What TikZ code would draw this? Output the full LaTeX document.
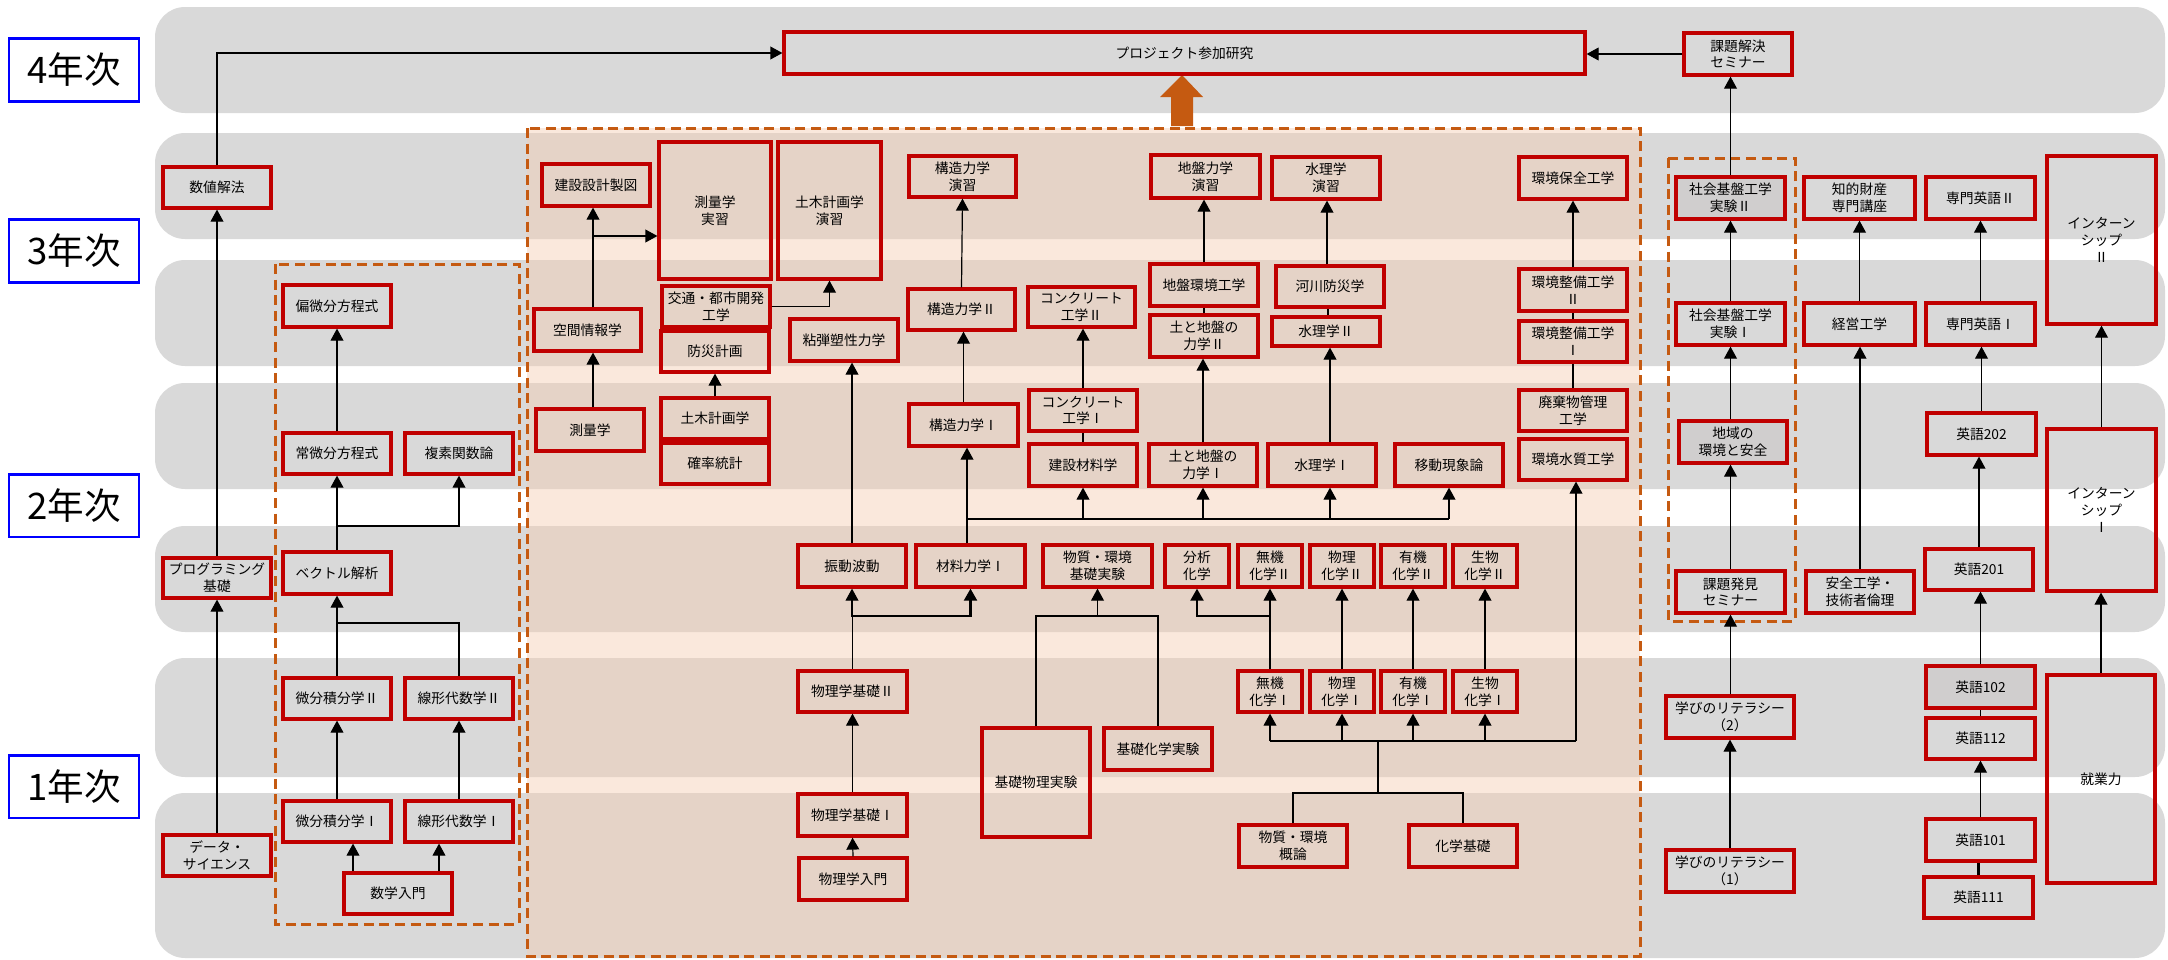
\documentclass[tikz,border=0pt]{standalone}
\usepackage{fontspec}
\setmainfont{Noto Sans CJK JP}
\usetikzlibrary{arrows.meta}

\definecolor{kred}{HTML}{C00000}
\definecolor{korange}{HTML}{C55A11}
\definecolor{kgray}{HTML}{D9D9D9}
\definecolor{kbox}{HTML}{D0CECE}
\definecolor{kcore}{RGB}{244,204,178}

\tikzset{
  course/.style={draw=kred, line width=0.8mm, inner sep=0pt, align=center,
    font=\fontsize{9.8}{12}\selectfont},
  dark/.style={course, fill=kbox},
  spanbox/.style n args={4}{minimum width={(#3-#1)*0.25mm},
    minimum height={(#4-#2)*0.25mm}, at={({(#1+#3)/2},{(#2+#4)/2})}},
  year/.style={draw=blue, fill=white, line width=0.7mm, inner sep=0pt,
    minimum width=32.5mm, minimum height=15.7mm,
    font=\fontsize{26}{30}\selectfont},
  zone/.style={draw=korange, line width=0.75mm, dash pattern=on 2.5mm off 1.4mm},
  arr/.style={-{Triangle[length=3mm,width=3.2mm]}, line width=0.3mm},
  thk/.style={line width=0.65mm},
}

\begin{document}
\begin{tikzpicture}[x=0.25mm,y=-0.25mm]
\useasboundingbox (0,0) rectangle (2168,960);

% year bands
\foreach \ya/\yb in {7/113,133/239,260/366,383/489,526/632,658/777,793/958}
  \fill[kgray, rounded corners=7.5mm] (155,\ya) rectangle (2165,\yb);

% groups
\fill[kcore, fill opacity=0.45] (527,128) rectangle (1640,956);
\draw[zone] (527,128) rectangle (1640,956);
\draw[zone] (275,264) rectangle (519,924);
\draw[zone] (1668,158) rectangle (1795,621);
\fill[korange] (1171,126) -- (1171,97) -- (1160,97) -- (1182,75) -- (1203,97)
  -- (1193,97) -- (1193,126) -- cycle;

% years
\node[year] (yr4) at (74,70) {4年次};
\node[year] (yr3) at (74,251) {3年次};
\node[year] (yr2) at (74,505.5) {2年次};
\node[year] (yr1) at (74,786.5) {1年次};

% left column
\node[course, spanbox={163}{167}{271}{208}] (suchi) {数値解法};
\node[course, spanbox={163}{558}{271}{598}] (prog) {プログラミング\\基礎};
\node[course, spanbox={163}{835}{271}{876}] (datasci) {データ・\\サイエンス};

% mathematics
\node[course, spanbox={283}{285}{391}{327}] (henbi) {偏微分方程式};
\node[course, spanbox={283}{433}{391}{474}] (joubi) {常微分方程式};
\node[course, spanbox={405}{433}{513}{474}] (fukuso) {複素関数論};
\node[course, spanbox={283}{552}{391}{594}] (vec) {ベクトル解析};
\node[course, spanbox={283}{678}{391}{719}] (bisekiB) {微分積分学Ⅱ};
\node[course, spanbox={405}{678}{513}{719}] (senkeiB) {線形代数学Ⅱ};
\node[course, spanbox={283}{801}{391}{842}] (bisekiA) {微分積分学Ⅰ};
\node[course, spanbox={405}{801}{513}{842}] (senkeiA) {線形代数学Ⅰ};
\node[course, spanbox={344}{873}{452}{914}] (sugaku) {数学入門};

% civil engineering core
\node[course, spanbox={542}{164}{650}{206}] (seizu) {建設設計製図};
\node[course, spanbox={659}{142}{771}{279}] (sokujitsu) {測量学\\実習};
\node[course, spanbox={778}{142}{881}{279}] (dokeien) {土木計画学\\演習};
\node[course, spanbox={909}{156}{1016}{197}] (kozoen) {構造力学\\演習};
\node[course, spanbox={662}{286}{770}{327}] (kotsu) {交通・都市開発\\工学};
\node[course, spanbox={908}{289}{1015}{330}] (kozoB) {構造力学Ⅱ};
\node[course, spanbox={1028}{287}{1135}{327}] (conB) {コンクリート\\工学Ⅱ};
\node[course, spanbox={534}{309}{641}{351}] (kukan) {空間情報学};
\node[course, spanbox={661}{331}{769}{372}] (bosai) {防災計画};
\node[course, spanbox={790}{319}{898}{361}] (nendan) {粘弾塑性力学};
\node[course, spanbox={536}{409}{644}{451}] (sokuryo) {測量学};
\node[course, spanbox={661}{398}{769}{439}] (dokei) {土木計画学};
\node[course, spanbox={661}{443}{769}{484}] (kakuritsu) {確率統計};
\node[course, spanbox={909}{404}{1018}{446}] (kozoA) {構造力学Ⅰ};
\node[course, spanbox={1029}{390}{1137}{431}] (conA) {コンクリート\\工学Ⅰ};
\node[course, spanbox={1029}{444}{1137}{486}] (zairyo) {建設材料学};
\node[course, spanbox={798}{545}{906}{587}] (shindo) {振動波動};
\node[course, spanbox={916}{545}{1025}{587}] (zairikiA) {材料力学Ⅰ};
\node[course, spanbox={1043}{545}{1152}{587}] (busjikken) {物質・環境\\基礎実験};
\node[course, spanbox={1165}{545}{1229}{587}] (bunseki) {分析\\化学};
\node[course, spanbox={1238}{545}{1302}{587}] (mukiB) {無機\\化学Ⅱ};
\node[course, spanbox={1310}{545}{1374}{587}] (butsuriB) {物理\\化学Ⅱ};
\node[course, spanbox={1381}{545}{1445}{587}] (yukiB) {有機\\化学Ⅱ};
\node[course, spanbox={1453}{545}{1517}{587}] (seibutsuB) {生物\\化学Ⅱ};
\node[course, spanbox={798}{671}{907}{712}] (butsukisoB) {物理学基礎Ⅱ};
\node[course, spanbox={982}{728}{1090}{837}] (kisobutsu) {基礎物理実験};
\node[course, spanbox={1104}{728}{1212}{770}] (kisoka) {基礎化学実験};
\node[course, spanbox={1238}{671}{1302}{712}] (mukiA) {無機\\化学Ⅰ};
\node[course, spanbox={1310}{671}{1374}{712}] (butsuriA) {物理\\化学Ⅰ};
\node[course, spanbox={1381}{671}{1445}{712}] (yukiA) {有機\\化学Ⅰ};
\node[course, spanbox={1453}{671}{1517}{712}] (seibutsuA) {生物\\化学Ⅰ};
\node[course, spanbox={798}{794}{907}{836}] (butsukisoA) {物理学基礎Ⅰ};
\node[course, spanbox={799}{858}{907}{900}] (butsunyu) {物理学入門};
\node[course, spanbox={1239}{825}{1347}{867}] (busgairon) {物質・環境\\概論};
\node[course, spanbox={1409}{825}{1517}{867}] (kagakukiso) {化学基礎};

\node[course, spanbox={1151}{155}{1260}{198}] (jibanen) {地盤力学\\演習};
\node[course, spanbox={1272}{157}{1380}{199}] (suirien) {水理学\\演習};
\node[course, spanbox={1519}{157}{1627}{199}] (hozen) {環境保全工学};
\node[course, spanbox={1150}{264}{1258}{306}] (jibankan) {地盤環境工学};
\node[course, spanbox={1276}{266}{1384}{307}] (kasen) {河川防災学};
\node[course, spanbox={1519}{269}{1627}{311}] (seibiB) {環境整備工学\\Ⅱ};
\node[course, spanbox={1150}{315}{1258}{357}] (dotoB) {土と地盤の\\力学Ⅱ};
\node[course, spanbox={1272}{317}{1380}{346}] (suiriB) {水理学Ⅱ};
\node[course, spanbox={1519}{321}{1627}{362}] (seibiA) {環境整備工学\\Ⅰ};
\node[course, spanbox={1519}{390}{1627}{431}] (haiki) {廃棄物管理\\工学};
\node[course, spanbox={1519}{439}{1627}{480}] (suishitsu) {環境水質工学};
\node[course, spanbox={1149}{444}{1257}{486}] (dotoA) {土と地盤の\\力学Ⅰ};
\node[course, spanbox={1268}{444}{1376}{486}] (suiriA) {水理学Ⅰ};
\node[course, spanbox={1395}{444}{1503}{486}] (ido) {移動現象論};

% right side
\node[course, spanbox={784}{32}{1585}{74}] (project) {プロジェクト参加研究};
\node[course, spanbox={1684}{33}{1792}{75}] (kaiketsu) {課題解決\\セミナー};
\node[dark, spanbox={1676}{177}{1785}{219}] (shakaiB) {社会基盤工学\\実験Ⅱ};
\node[course, spanbox={1804}{177}{1915}{219}] (chiteki) {知的財産\\専門講座};
\node[course, spanbox={1926}{177}{2035}{219}] (senmonB) {専門英語Ⅱ};
\node[course, spanbox={2047}{156}{2156}{324}] (internB) {インターン\\シップ\\Ⅱ};
\node[course, spanbox={1676}{303}{1785}{345}] (shakaiA) {社会基盤工学\\実験Ⅰ};
\node[course, spanbox={1804}{303}{1915}{345}] (keiei) {経営工学};
\node[course, spanbox={1926}{303}{2035}{345}] (senmonA) {専門英語Ⅰ};
\node[dark, spanbox={1679}{421}{1787}{463}] (chiiki) {地域の\\環境と安全};
\node[course, spanbox={1927}{413}{2036}{455}] (eigoNN) {英語202};
\node[course, spanbox={2047}{429}{2156}{591}] (internA) {インターン\\シップ\\Ⅰ};
\node[course, spanbox={1676}{571}{1785}{613}] (hakken) {課題発見\\セミナー};
\node[course, spanbox={1806}{571}{1914}{613}] (anzen) {安全工学・\\技術者倫理};
\node[course, spanbox={1925}{549}{2033}{590}] (eigoNA) {英語201};
\node[course, spanbox={1666}{696}{1794}{738}] (manabiB) {学びのリテラシー\\（2）};
\node[dark, spanbox={1926}{666}{2035}{708}] (eigoAN) {英語102};
\node[course, spanbox={1926}{718}{2035}{759}] (eigoAB) {英語112};
\node[course, spanbox={2047}{675}{2155}{883}] (shugyo) {就業力};
\node[course, spanbox={1666}{850}{1794}{892}] (manabiA) {学びのリテラシー\\（1）};
\node[course, spanbox={1926}{819}{2035}{861}] (eigoAA) {英語101};
\node[course, spanbox={1924}{877}{2033}{918}] (eigoAAA) {英語111};

% left connectors
\draw[arr] (datasci.north) -- (prog.south);
\draw[arr] (prog.north) -- (suchi.south);
\draw[arr] (suchi.north) |- (project.west);

% math connectors
\draw[arr] (joubi.north) -- (henbi.south);
\draw[arr] (vec.north) -- (joubi.south);
\coordinate (jvec) at (vec.north |- 0,526);
\draw[arr] (jvec) -| (fukuso.south);
\draw[arr] (bisekiB.north) -- (vec.south);
\draw[thk] (senkeiB.north) |- (bisekiB.north |- 0,623);
\draw[arr] (bisekiA.north) -- (bisekiB.south);
\draw[arr] (senkeiA.north) -- (senkeiB.south);
\draw[arr] (sugaku.north -| 353,0) -- (bisekiA.south -| 353,0);
\draw[arr] (sugaku.north -| 439,0) -- (senkeiA.south -| 439,0);

% core connectors
\draw[arr] (sokuryo.north -| 593,0) -- (kukan.south -| 593,0);
\draw[arr] (kukan.north -| 593,0) -- (seizu.south -| 593,0);
\coordinate (jkukan) at (593,236);
\draw[arr] (jkukan) -- (jkukan -| sokujitsu.west);
\draw[arr] (kotsu.east) -| (dokeien.south);
\draw[arr] (dokei.north) -- (bosai.south);
\draw[arr] (kozoB.north) -- (kozoen.south);
\draw[arr] (kozoA.north) -- (kozoA.north |- kozoB.south);
\draw[arr] (shindo.north) -- (shindo.north |- nendan.south);
\draw[arr] (zairikiA.north -| 967,0) -- (kozoA.south -| 967,0);
\coordinate (jzai) at (967,519);
\draw[thk] (jzai) -- (jzai -| ido.south);
\draw[arr] (jzai -| ido.south) -- (ido.south);
\draw[arr] (jzai -| zairyo.south) -- (zairyo.south);
\draw[arr] (jzai -| dotoA.south) -- (dotoA.south);
\draw[arr] (jzai -| 1330,0) -- (suiriA.south -| 1330,0);
\draw[thk] (zairyo.north) -- (conA.south);
\draw[arr] (conA.north) -- (conA.north |- conB.south);
\draw[arr] (dotoA.north) -- (dotoA.north |- dotoB.south);
\draw[thk] (dotoB.north) -- (jibankan.south);
\draw[arr] (jibankan.north) -- (jibankan.north |- jibanen.south);
\draw[arr] (suiriA.north -| 1330,0) -- (suiriB.south -| 1330,0);
\draw[thk] (suiriB.north -| 1328,0) -- (kasen.south -| 1328,0);
\draw[arr] (kasen.north -| 1327,0) -- (suirien.south -| 1327,0);
\draw[thk] (haiki.north) -- (seibiA.south);
\draw[thk] (seibiA.north) -- (seibiB.south);
\draw[arr] (seibiB.north) -- (hozen.south);

% chemistry
\coordinate (jchem) at (1378,793);
\draw[thk] (busgairon.north) |- (jchem) -| (kagakukiso.north);
\draw[thk] (jchem) -- (1378,741);
\draw[thk] (mukiA.south |- 0,741) -- (1576,741);
\draw[arr] (mukiA.south |- 0,741) -- (mukiA.south);
\draw[arr] (butsuriA.south |- 0,741) -- (butsuriA.south);
\draw[arr] (yukiA.south |- 0,741) -- (yukiA.south);
\draw[arr] (seibutsuA.south |- 0,741) -- (seibutsuA.south);
\draw[arr] (1576,741) -- (suishitsu.south -| 1576,0);
\draw[arr] (mukiA.north) -- (mukiB.south);
\draw[arr] (butsuriA.north) -- (butsuriB.south);
\draw[arr] (yukiA.north) -- (yukiB.south);
\draw[arr] (seibutsuA.north) -- (seibutsuB.south);
\draw[arr, thk] (mukiA.north |- 0,616) -| (bunseki.south);

% physics
\draw[arr] (butsunyu.north) -- (butsukisoA.south);
\draw[arr] (butsukisoA.north) -- (butsukisoB.south);
\coordinate (jbut) at (butsukisoB.north |- 0,616);
\draw[line width=0.3mm] (butsukisoB.north) -- (jbut);
\draw[arr] (jbut) -- (jbut -| shindo.south) -- (shindo.south);
\draw[arr, thk] (jbut) -| (zairikiA.south);
\draw[thk] (kisobutsu.north) |- (kisoka.north |- 0,616) -- (kisoka.north);
\draw[arr] (busjikken.south |- 0,616) -- (busjikken.south);

% right connectors
\draw[arr] (kaiketsu.west) -- (kaiketsu.west -| project.east);
\draw[arr] (shakaiB.north) -- (shakaiB.north |- kaiketsu.south);
\draw[arr] (shakaiA.north) -- (shakaiB.south);
\draw[arr] (chiiki.north -| shakaiA.south) -- (shakaiA.south);
\draw[arr] (hakken.north) -- (hakken.north |- chiiki.south);
\draw[arr] (manabiB.north -| hakken.south) -- (hakken.south);
\draw[arr] (manabiA.north) -- (manabiB.south);
\draw[arr] (anzen.north) -- (anzen.north |- keiei.south);
\draw[arr] (keiei.north) -- (keiei.north |- chiteki.south);
\draw[arr] (senmonA.north) -- (senmonB.south);
\draw[arr] (eigoNN.north) -- (eigoNN.north |- senmonA.south);
\draw[arr] (eigoNA.north) -- (eigoNA.north |- eigoNN.south);
\draw[arr] (eigoAN.north) -- (eigoAN.north |- eigoNA.south);
\draw[line width=0.3mm] (eigoAB.north) -- (eigoAN.south);
\draw[arr] (eigoAA.north) -- (eigoAB.south);
\draw[thk] (eigoAAA.north) -- (eigoAAA.north |- eigoAA.south);
\draw[arr] (shugyo.north) -- (shugyo.north |- internA.south);
\draw[arr] (internA.north) -- (internB.south);
\end{tikzpicture}
\end{document}
